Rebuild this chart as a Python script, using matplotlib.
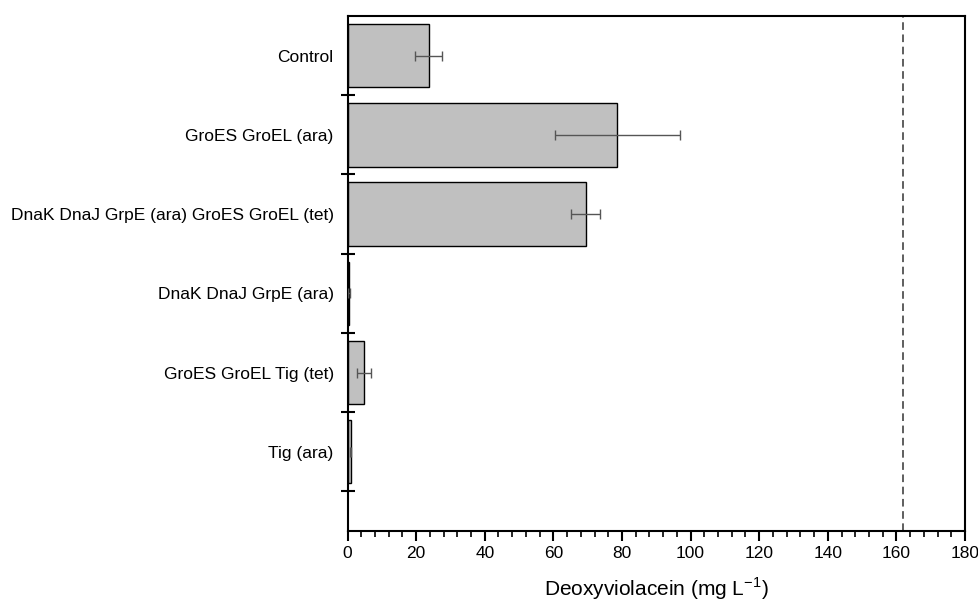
import matplotlib
matplotlib.use("Agg")
import matplotlib.pyplot as plt
from matplotlib.ticker import MultipleLocator, FixedLocator, NullFormatter

plt.rcParams['font.family'] = ['Liberation Sans', 'DejaVu Sans']

categories = ["Control", "GroES GroEL (ara)", "DnaK DnaJ GrpE (ara) GroES GroEL (tet)",
              "DnaK DnaJ GrpE (ara)", "GroES GroEL Tig (tet)", "Tig (ara)"]
values = [23.6, 78.6, 69.4, 0.5, 4.9, 0.9]
errors = [4.0, 18.2, 4.2, 0.3, 2.0, 0.2]
reference_line = 162
x_ticks = [0, 20, 40, 60, 80, 100, 120, 140, 160, 180]

fig = plt.figure(figsize=(9.79, 6.03), dpi=100)
ax = fig.add_axes([0.355, 0.1194, 0.6307, 0.8541])

pos = list(range(len(categories)))
ax.barh(pos, values, height=0.8, color="#c0c0c0", edgecolor="black", linewidth=1.0, zorder=2)
ax.errorbar(values, pos, xerr=errors, fmt="none", ecolor="#555555", elinewidth=1.0,
            capsize=3.5, capthick=1.0, zorder=3)
ax.axvline(reference_line, color="#333333", linestyle=(0, (5, 3)), linewidth=1.1, zorder=1)

ax.set_xlim(0, 180)
ax.set_ylim(6.0, -0.5)
ax.xaxis.set_major_locator(FixedLocator(x_ticks))
ax.xaxis.set_minor_locator(MultipleLocator(4))
ax.set_xticklabels([str(t) for t in x_ticks], fontsize=12.5)

ax.yaxis.set_major_locator(FixedLocator([p + 0.5 for p in pos]))
ax.yaxis.set_major_formatter(NullFormatter())
ax.yaxis.set_minor_locator(FixedLocator(pos))
ax.set_yticklabels(categories, minor=True, fontsize=12.5)
ax.tick_params(axis='y', which='minor', length=0, pad=10)
ax.tick_params(axis='y', which='major', direction='inout', length=10, width=1.5)
ax.tick_params(axis='x', which='major', direction='out', length=7, width=1.5, pad=4)
ax.tick_params(axis='x', which='minor', direction='out', length=4, width=1.2)

for s in ax.spines.values():
    s.set_linewidth(1.5)

ax.set_xlabel("Deoxyviolacein (mg L$^{\\mathregular{-1}}$)", fontsize=15, labelpad=10)

fig.savefig("out.png", dpi=100)
